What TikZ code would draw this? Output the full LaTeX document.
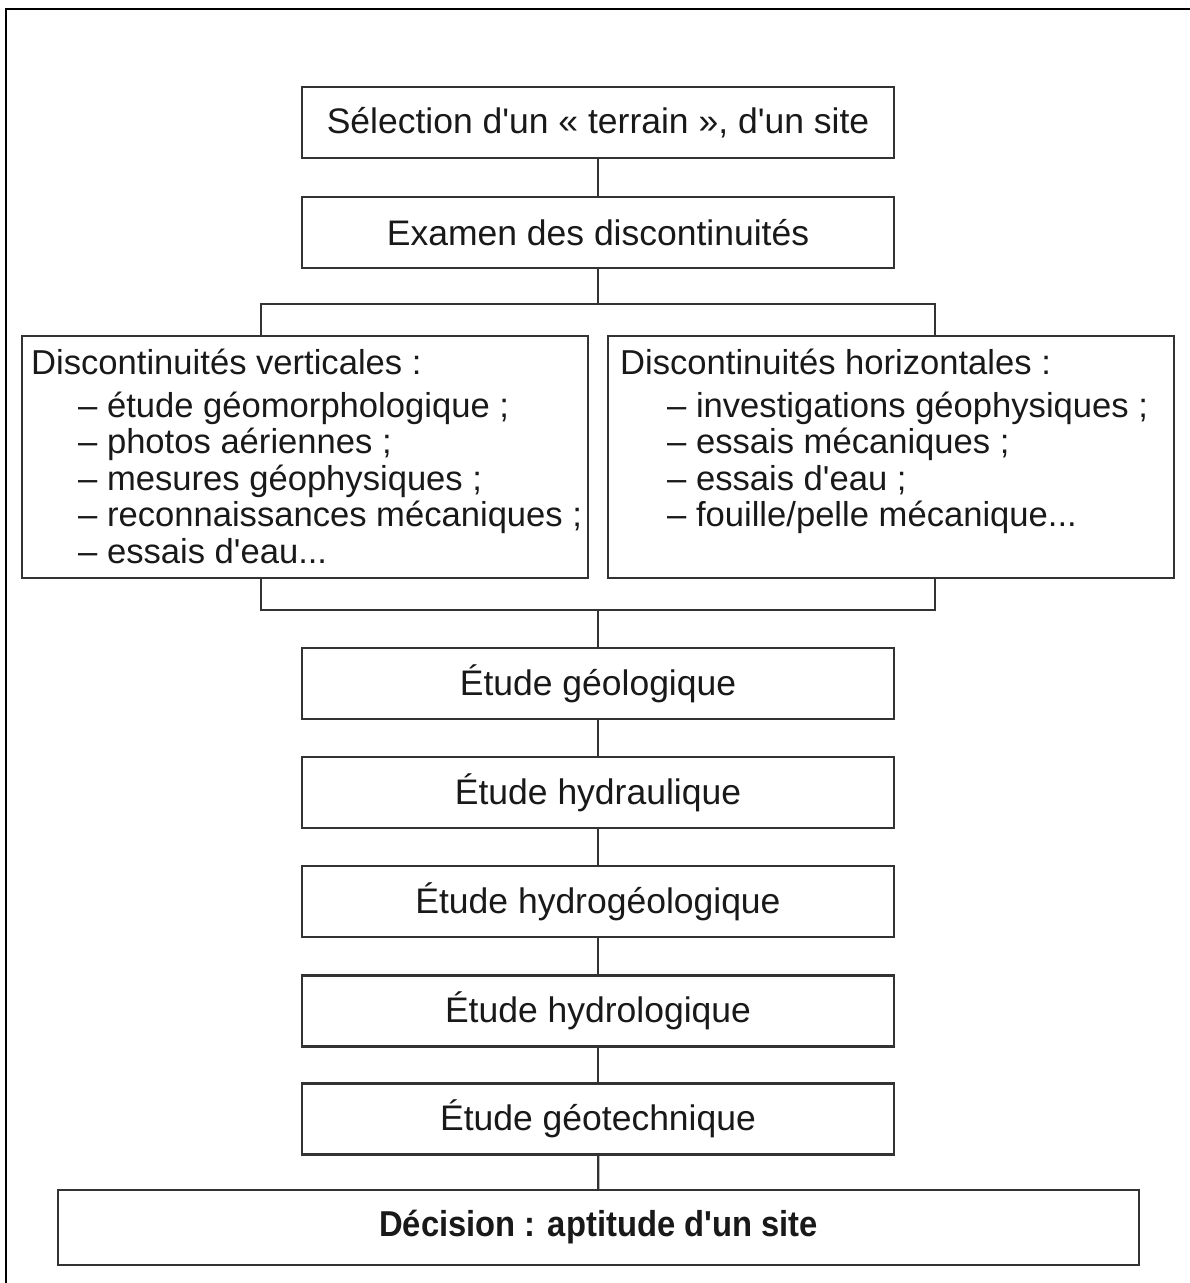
\documentclass[tikz,border=0pt]{standalone}
\usepackage{fontspec}
\setmainfont{Liberation Sans}[Ligatures=TeXOff]
\newfontfamily\decfont[FakeStretch=0.91]{Liberation Sans}

\begin{document}
\begin{tikzpicture}[x=1pt,y=-1pt,
  ink/.style={draw=black!80, line width=2.2pt},
  stage/.style={ink, rectangle, minimum width=592pt, minimum height=71pt,
    inner sep=0pt, text=black!90, font=\fontsize{35.5}{40}\selectfont},
  panel/.style={ink, rectangle, minimum width=566pt, minimum height=242pt, inner sep=0pt},
  row/.style={anchor=base west, inner sep=0pt, text=black!90, font=\fontsize{34.6}{40}\selectfont},
  link/.style={draw=black!80, line width=2.2pt}
]
\useasboundingbox (0,0) rectangle (1190,1283);

% outer frame (top and left rules)
\draw[line width=2.6pt, black] (6,1283) -- (6,9) -- (1190,9);

% main chain of stages
\node[stage] (sel)   at (598,122.5) {Sélection d'un « terrain », d'un site};
\node[stage] (exam)  at (598,232.5) {Examen des discontinuités};

% the two branches
\node[panel] (vbox) at (305,457) {};
\node[panel] (hbox) at (891,457) {};

\node[row] (vh) at (31,374)  {Discontinuités verticales :};
\node[row] (v1) at (78,417)  {– étude géomorphologique ;};
\node[row] (v2) at (78,453.5){– photos aériennes ;};
\node[row] (v3) at (78,490)  {– mesures géophysiques ;};
\node[row] (v4) at (78,526.5){– reconnaissances mécaniques ;};
\node[row] (v5) at (78,563)  {– essais d'eau...};

\node[row] (hh) at (620,374)  {Discontinuités horizontales :};
\node[row] (h1) at (667,417)  {– investigations géophysiques ;};
\node[row] (h2) at (667,453.5){– essais mécaniques ;};
\node[row] (h3) at (667,490)  {– essais d'eau ;};
\node[row] (h4) at (667,526.5){– fouille/pelle mécanique...};

\node[stage] (geol)  at (598,683.5)  {Étude géologique};
\node[stage] (hydra) at (598,792.5)  {Étude hydraulique};
\node[stage] (hgeo)  at (598,901.5)  {Étude hydrogéologique};
\node[stage] (hlogy) at (598,1011)   {Étude hydrologique};
\node[stage] (gtech) at (598,1119)   {Étude géotechnique};
\node[ink, rectangle, minimum width=1081pt, minimum height=75pt, inner sep=0pt,
      text=black!90, font=\decfont\bfseries\fontsize{36}{40}\selectfont]
      (dec) at (598.5,1227.5) {Décision : aptitude d'un site};

% split and merge rails
\coordinate (splitL) at (261,304);
\coordinate (splitR) at (935,304);
\coordinate (mergeL) at (261,610);
\coordinate (mergeR) at (935,610);

\draw[link] (sel) -- (exam);
\draw[link] (exam.south) -- (exam.south |- splitL);
\draw[link] (splitL |- vbox.north) -- (splitL) -- (splitR) -- (splitR |- hbox.north);
\draw[link] (mergeL |- vbox.south) -- (mergeL) -- (mergeR) -- (mergeR |- hbox.south);
\draw[link] (geol.north |- mergeL) -- (geol.north);
\draw[link] (geol) -- (hydra);
\draw[link] (hydra) -- (hgeo);
\draw[link] (hgeo) -- (hlogy);
\draw[link] (hlogy) -- (gtech);
\draw[link] (gtech) -- (dec);
\end{tikzpicture}
\end{document}
